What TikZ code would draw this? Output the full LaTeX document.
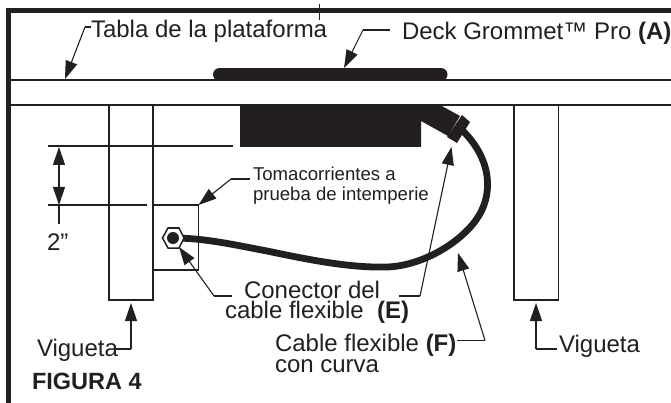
\documentclass[tikz,border=0pt]{standalone}
\usepackage{fontspec}
\setmainfont{Liberation Sans}
\usetikzlibrary{arrows.meta}
\definecolor{ink}{HTML}{231F20}
\tikzset{
  every node/.style={inner sep=0pt,outer sep=0pt,text=ink},
  lab/.style={anchor=base west,font=\fontsize{24}{24}\selectfont},
  small/.style={anchor=base west,font=\fontsize{18.6}{18.6}\selectfont},
  part/.style={draw=ink,line width=1.1pt},
  edge/.style={draw=ink,line width=1.1pt},
  leader/.style={draw=ink,line width=1.1pt,-{Triangle[length=18pt,width=12pt]}},
  dimline/.style={draw=ink,line width=1.1pt,{Triangle[length=18pt,width=12pt]}-{Triangle[length=18pt,width=12pt]}},
}
\begin{document}
\begin{tikzpicture}[x=1pt,y=-1pt]
\useasboundingbox[fill=white] (0,0) rectangle (671,403);
% frame
\draw[ink,line width=4.8pt] (8.3,403) -- (8.3,10.5) -- (671,10.5);
\draw[ink,line width=1pt] (319,4) -- (319,20);
% deck
\draw[edge] (10,80) -- (671,80);
\draw[edge] (10,105) -- (671,105);
% joists
\draw[part] (109,105) rectangle (153,300);
\draw[part] (514,105) rectangle (558.5,300);
% dimension extension lines
\draw[edge] (48,146) -- (233,146);
\draw[edge] (48,205) -- (147,205);
% outlet box
\node[part,draw,minimum width=45.5pt,minimum height=65pt,anchor=north west] (box) at (153,205) {};
% grommet
\draw[ink,line width=13pt,line cap=round] (219.5,74.5) -- (441,74.5);
% black block
\fill[ink] (240,105) -- (440,105) -- (460,116) -- (448,136) -- (421,121) -- (421,147) -- (240,147) -- cycle;
\fill[ink] (462,115) -- (470,122) -- (457,143) -- (447,137) -- cycle;
% cable
\draw[ink,line width=6.8pt] (173,238) .. controls (205,238) and (235,245) .. (267,251)
  .. controls (310,260) and (350,268) .. (387,267)
  .. controls (420,266) and (458,245) .. (476,220)
  .. controls (494,195) and (492,160) .. (463,131);
% hex connector
\draw[ink,line width=1.5pt,fill=white] (162.5,238) -- (168,228) -- (179,228) -- (184,238) -- (179,248) -- (168,248) -- cycle;
\fill[ink] (173,238) circle (6pt);
% coordinates for leader ends
\coordinate (tabla0) at (85,27);
\coordinate (tablaT) at (65,79);
\coordinate (deck0) at (390,30);
\coordinate (deck1) at (363,30);
\coordinate (deckT) at (344,68);
\coordinate (toma0) at (250,179);
\coordinate (toma1) at (231,179);
\coordinate (con0) at (232,296);
\coordinate (con1) at (214,296);
\coordinate (conT) at (179,247);
\coordinate (e0) at (399,296);
\coordinate (e1) at (420,296);
\coordinate (eT) at (451.5,147);
\coordinate (f0) at (457,340.5);
\coordinate (f1) at (485,340.5);
\coordinate (fT) at (458,253);
\coordinate (v0) at (116,349);
\coordinate (v1) at (131,349);
\coordinate (vT) at (131,303);
\coordinate (w0) at (557,349);
\coordinate (w1) at (536,349);
\coordinate (wT) at (536,303);
\coordinate (d0) at (59,147);
\coordinate (d1) at (59,205);
\coordinate (d2) at (59,224);
% leaders
\draw[edge] (91,27) -- (tabla0);
\draw[leader] (tabla0) -- (tablaT);
\draw[edge] (deck0) -- (deck1);
\draw[leader] (deck1) -- (deckT);
\draw[edge] (toma0) -- (toma1);
\draw[leader] (toma1) -- (box.north east);
\draw[edge] (con0) -- (con1);
\draw[leader] (con1) -- (conT);
\draw[edge] (e0) -- (e1);
\draw[leader] (e1) -- (eT);
\draw[edge] (f0) -- (f1);
\draw[leader] (f1) -- (fT);
\draw[edge] (v0) -- (v1);
\draw[leader] (v1) -- (vT);
\draw[edge] (w0) -- (w1);
\draw[leader] (w1) -- (wT);
\draw[dimline] (d0) -- (d1);
\draw[edge] (d1) -- (d2);
% labels
\node[lab] (tabla) at (91,38) {Tabla de la plataforma};
\node[lab] (deck) at (402,40) {Deck Grommet™ Pro \textbf{(A)}};
\node[small] (toma) at (253,181) {Tomacorrientes a};
\node[small] (toma2) at (253,201) {prueba de intemperie};
\node[lab] (two) at (47,250) {2”};
\node[lab] (con) at (244,298) {Conector del};
\node[lab] (con2) at (225,318) {cable flexible\ \ \textbf{(E)}};
\node[lab] (cab) at (275,351) {Cable flexible \textbf{(F)}};
\node[lab] (cab2) at (275,372) {con curva};
\node[lab] (vig) at (37,356) {Vigueta};
\node[lab] (vig2) at (559,352) {Vigueta};
\node[lab,font=\fontsize{23.5}{23.5}\selectfont\bfseries] (fig) at (32,389) {FIGURA 4};
\end{tikzpicture}
\end{document}
